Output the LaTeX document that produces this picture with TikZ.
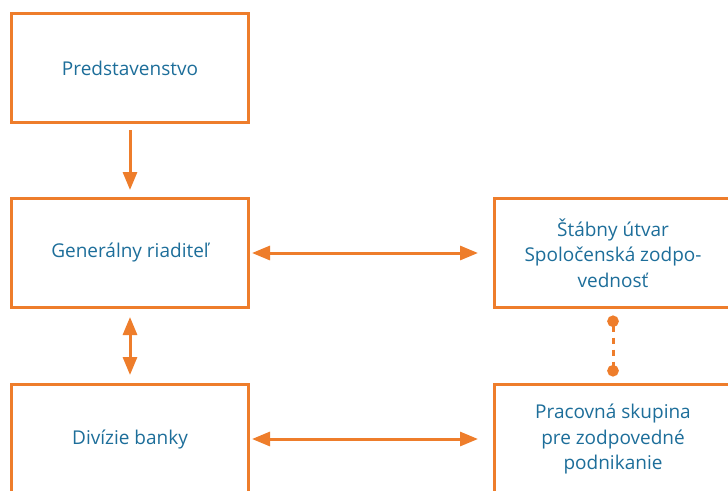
\documentclass[tikz,border=0pt]{standalone}
\usepackage{fontspec}
\setmainfont{Open Sans}
\usetikzlibrary{arrows.meta}
\definecolor{orgorange}{HTML}{EE7D2B}
\definecolor{orgblue}{HTML}{1D6E9A}
\tikzset{
  orgbox/.style={draw=orgorange, line width=3.2pt, fill=white, outer sep=0pt,
    minimum width=237pt, minimum height=109pt, inner sep=0pt,
    text=orgblue, align=center, font=\fontsize{19}{25.5}\selectfont},
  link/.style={draw=orgorange, line width=3pt,
    -{Triangle[length=18pt,width=14pt]}},
  twoway/.style={link, {Triangle[length=18pt,width=14pt]}-{Triangle[length=18pt,width=14pt]}},
  dotlink/.style={draw=orgorange, line width=3pt, dash pattern=on 6pt off 6pt,
    {Circle[length=11.5pt]}-{Circle[length=11.5pt]}}
}
\begin{document}
\begin{tikzpicture}[x=1pt,y=-1pt]
\useasboundingbox (0,0) rectangle (728,490);
\clip (0,0) rectangle (728,490);
\fill[white] (0,0) rectangle (728,490);

% left column
\node[orgbox] (pred) at (130,68) {Predstavenstvo};
\node[orgbox] (gen)  at (130,253) {Generálny riaditeľ};
\node[orgbox] (div)  at (130,439) {Divízie banky};

% right column
\node[orgbox] (stab) at (613,253) {Štábny útvar\\Spoločenská zodpo-\\vednosť};
\node[orgbox] (prac) at (613,439) {Pracovná skupina\\pre zodpovedné\\podnikanie};

% connectors
\draw[link, shorten <=7.5pt, shorten >=8.5pt] (pred.south) -- (gen.north);
\draw[twoway, shorten <=9.5pt, shorten >=9.5pt] (gen.south) -- (div.north);
\draw[twoway, shorten <=3.5pt, shorten >=16.5pt] (gen.east) -- (stab.west);
\draw[twoway, shorten <=3.5pt, shorten >=16.5pt] (div.east) -- (prac.west);
\draw[dotlink, shorten <=8pt, shorten >=8pt] (stab.south) -- (prac.north);
\end{tikzpicture}
\end{document}
